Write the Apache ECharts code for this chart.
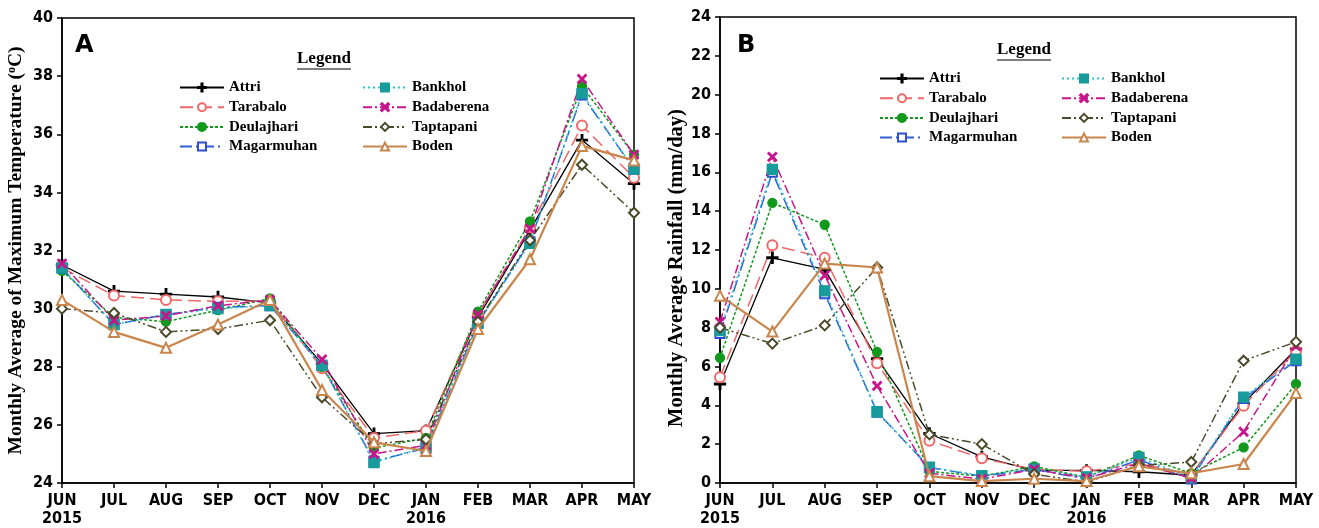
<!DOCTYPE html>
<html>
<head>
<meta charset="utf-8">
<script src="https://cdn.jsdelivr.net/npm/echarts@6/dist/echarts.min.js"></script>
<style>html,body{margin:0;padding:0;background:#fff;}#c{width:1319px;height:528px;}</style>
</head>
<body>
<div id="c"></div>
<script>
// ---- data ----
const months = ['JUN\n2015','JUL','AUG','SEP','OCT','NOV','DEC','JAN\n2016','FEB','MAR','APR','MAY'];
const stations = ['Attri','Tarabalo','Deulajhari','Magarmuhan','Bankhol','Badaberena','Taptapani','Boden'];

// Panel A: monthly average of maximum temperature (°C)
const tempAttri      = [31.5, 30.6, 30.5, 30.4, 30.2, 28.1, 25.7, 25.8, 29.7, 32.7, 35.8, 34.3];
const tempTarabalo   = [31.4, 30.45, 30.3, 30.25, 30.25, 27.95, 25.55, 25.8, 29.8, 32.8, 36.3, 34.5];
const tempDeulajhari = [31.3, 29.7, 29.55, 29.95, 30.35, 28.0, 25.2, 25.55, 29.9, 33.0, 37.65, 35.3];
const tempMagarmuhan = [31.4, 29.45, 29.8, 30.05, 30.1, 28.05, 24.75, 25.2, 29.5, 32.3, 37.35, 34.8];
const tempBankhol    = [31.4, 29.45, 29.8, 30.0, 30.1, 28.05, 24.7, 25.25, 29.5, 32.25, 37.4, 34.8];
const tempBadaberena = [31.55, 29.6, 29.75, 30.1, 30.3, 28.25, 25.0, 25.3, 29.8, 32.75, 37.9, 35.3];
const tempTaptapani  = [30.0, 29.85, 29.2, 29.3, 29.6, 26.95, 25.35, 25.5, 29.55, 32.35, 34.95, 33.3];
const tempBoden      = [30.3, 29.2, 28.65, 29.45, 30.3, 27.2, 25.4, 25.1, 29.3, 31.7, 35.6, 35.1];

// Panel B: monthly average rainfall (mm/day)
const rainAttri      = [5.1, 11.6, 11.0, 6.4, 2.55, 1.35, 0.65, 0.65, 0.58, 0.4, 4.1, 6.9];
const rainTarabalo   = [5.45, 12.25, 11.6, 6.17, 2.18, 1.27, 0.7, 0.6, 1.0, 0.45, 3.98, 6.8];
const rainDeulajhari = [6.45, 14.43, 13.3, 6.75, 0.6, 0.35, 0.85, 0.3, 1.42, 0.5, 1.83, 5.1];
const rainMagarmuhan = [7.7, 16.0, 9.75, 3.65, 0.8, 0.35, 0.7, 0.2, 1.2, 0.2, 4.35, 6.3];
const rainBankhol    = [7.85, 16.15, 9.9, 3.67, 0.82, 0.38, 0.72, 0.32, 1.32, 0.28, 4.42, 6.38];
const rainBadaberena = [8.3, 16.8, 10.7, 5.0, 0.5, 0.2, 0.7, 0.25, 1.0, 0.25, 2.64, 7.05];
const rainTaptapani  = [8.0, 7.18, 8.12, 11.1, 2.5, 2.0, 0.45, 0.05, 0.9, 1.08, 6.3, 7.27];
const rainBoden      = [9.65, 7.8, 11.3, 11.1, 0.35, 0.1, 0.22, 0.1, 0.86, 0.5, 0.98, 4.63];

const tempTicksA = {min: 24, max: 40, interval: 2};
const rainTicksB = {min: 0, max: 24, interval: 2};

const tempData = [tempAttri, tempTarabalo, tempDeulajhari, tempMagarmuhan, tempBankhol, tempBadaberena, tempTaptapani, tempBoden];
const rainData = [rainAttri, rainTarabalo, rainDeulajhari, rainMagarmuhan, rainBankhol, rainBadaberena, rainTaptapani, rainBoden];

// ---- styles ----
const PLUS = 'path://M4.3,0H5.7V4.3H10V5.7H5.7V10H4.3V5.7H0V4.3H4.3Z';
const CROSS = 'path://M0,1.2L1.2,0L5,3.8L8.8,0L10,1.2L6.2,5L10,8.8L8.8,10L5,6.2L1.2,10L0,8.8L3.8,5Z';
const styles = {
  Attri:      {color:'#000000', line:'#000000', symbol:PLUS, size:11, type:'solid', width:1.3},
  Tarabalo:   {color:'#f06868', line:'#f06868', symbol:'emptyCircle', size:10, type:[13,6], width:1.5},
  Deulajhari: {color:'#11991c', line:'#11991c', symbol:'circle', size:9, type:[3,2], width:1.5},
  Magarmuhan: {color:'#2f4fd0', line:'#2f60d8', symbol:'emptyRect', size:9, type:[12,4,2,4], width:1.5},
  Bankhol:    {color:'#179b9b', line:'#2ec4cc', symbol:'rect', size:10, type:[2,3], width:1.6},
  Badaberena: {color:'#c8158a', line:'#c8158a', symbol:CROSS, size:9, type:[9,3,2,3], width:1.5},
  Taptapani:  {color:'#4a4a2a', line:'#4a4a2a', symbol:'emptyDiamond', size:10, type:[9,3,2,3,2,3], width:1.5},
  Boden:      {color:'#c9864c', line:'#c9864c', symbol:'emptyTriangle', size:10, type:'solid', width:2.2}
};

const axisFont = "'Liberation Sans Narrow', 'DejaVu Sans Condensed', Roboto, sans-serif";
const serif = "'Liberation Serif', 'DejaVu Serif', serif";

function mkSeries(dataArr, idx) {
  return stations.map((name, i) => {
    const s = styles[name];
    return {
      name, type:'line', xAxisIndex: idx, yAxisIndex: idx,
      data: dataArr[i],
      symbol: s.symbol, symbolSize: s.size,
      showAllSymbol: true,
      lineStyle: {color: s.line, type: s.type, width: s.width},
      itemStyle: {color: s.color, borderColor: s.color, borderWidth: 1.3},
      emphasis: {disabled: true},
      animation: false,
      z: name === 'Boden' ? 3 : 2
    };
  });
}

function xAxis(gi) {
  return {
    type:'category', gridIndex: gi, data: months, boundaryGap: false,
    axisLine: {show: true, lineStyle: {color:'#000', width: 1.5}},
    axisTick: {show: true, inside: false, length: 5, alignWithLabel: true, lineStyle: {color:'#000', width: 1.5}},
    axisLabel: {color:'#000', fontFamily: axisFont, fontSize: 16, fontWeight: 'bold', margin: 9, lineHeight: 18, interval: 0},
    splitLine: {show: false}
  };
}
function yAxis(gi, ticks, nameRich, gap, fs, pad) {
  return {
    type:'value', gridIndex: gi, min: ticks.min, max: ticks.max, interval: ticks.interval,
    name: nameRich, nameLocation: 'middle', nameGap: gap, nameRotate: 90,
    nameTextStyle: {
      color:'#000', fontFamily: serif, fontWeight: 'bold', fontSize: fs, padding: pad,
      rich: {
        t: {fontFamily: serif, fontWeight:'bold', fontSize: fs, color:'#000'},
        s: {fontFamily: serif, fontWeight:'bold', fontSize: 12, color:'#000', verticalAlign: 'top'}
      }
    },
    axisLine: {show: true, lineStyle: {color:'#000', width: 1.5}},
    axisTick: {show: true, inside: false, length: 5, lineStyle: {color:'#000', width: 1.5}},
    axisLabel: {color:'#000', fontFamily: axisFont, fontSize: 16, fontWeight: 'bold', margin: 9},
    splitLine: {show: false}
  };
}

function legend(items, left, top) {
  return {
    data: items, orient: 'vertical', left, top,
    itemWidth: 44, itemHeight: 10, itemGap: 4.7,
    textStyle: {color:'#000', fontFamily: serif, fontWeight: 'bold', fontSize: 15, lineHeight: 15},
    selectedMode: false, padding: 0
  };
}

function legendTitle(cx, cy) {
  return {
    type: 'group',
    children: [
      {type:'text', left: cx - 27, top: cy - 10, style: {text: 'Legend', fill:'#000', font: "bold 17px 'Liberation Serif', serif"}},
      {type:'line', shape: {x1: cx - 27, y1: cy + 9, x2: cx + 27, y2: cy + 9}, style: {stroke:'#000', lineWidth: 1.2}}
    ]
  };
}

const option = {
  backgroundColor: '#fff',
  animation: false,
  grid: [
    {left: 62, right: 685, top: 18, bottom: 43, show: true, borderColor: '#000', borderWidth: 1.5, backgroundColor: 'transparent'},
    {left: 720, right: 23, top: 17, bottom: 44, show: true, borderColor: '#000', borderWidth: 1.5, backgroundColor: 'transparent'}
  ],
  xAxis: [xAxis(0), xAxis(1)],
  yAxis: [
    yAxis(0, tempTicksA, '{t|Monthly Average of Maximum Temperature (}{s|o}{t|C)}', 36, 19.5, 0),
    yAxis(1, rainTicksB, 'Monthly Average Rainfall (mm/day)', 26, 20.5, [0, 36, 0, 0])
  ],
  legend: [
    legend(stations.slice(0,4), 179, 80),
    legend(stations.slice(4,8), 362, 80),
    legend(stations.slice(0,4), 879, 71),
    legend(stations.slice(4,8), 1061, 71)
  ],
  graphic: [
    {type:'text', left: 75, top: 34, style: {text:'A', fill:'#000', font: "bold 24px 'DejaVu Sans', sans-serif"}},
    {type:'text', left: 737, top: 34, style: {text:'B', fill:'#000', font: "bold 24px 'DejaVu Sans', sans-serif"}},
    legendTitle(324, 60),
    legendTitle(1024, 51)
  ],
  series: [...mkSeries(tempData, 0), ...mkSeries(rainData, 1)]
};

const chart = echarts.init(document.getElementById('c'), null, {renderer: 'canvas'});
chart.setOption(option);
</script>
</body>
</html>
